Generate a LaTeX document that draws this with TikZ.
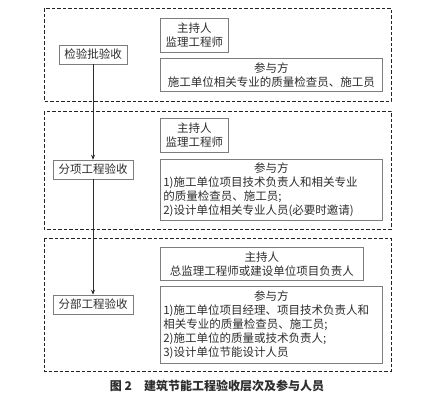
\documentclass[tikz,border=0pt]{standalone}
\usepackage{xcolor}
\usepackage{fontspec}
\setmainfont{Noto Sans CJK SC}
\usetikzlibrary{arrows.meta}
\definecolor{framegray}{RGB}{35, 35, 35}
\definecolor{boxgray}{RGB}{125, 125, 125}
\definecolor{textgray}{RGB}{45, 45, 45}

\tikzset{
  stageframe/.style={draw=framegray, line width=0.9pt, dash pattern=on 3.5pt off 2pt},
  levelbox/.style={draw=boxgray, line width=0.6pt, minimum height=19pt, inner sep=2pt,
    text=textgray, font=\fontsize{11.5}{14}\selectfont},
  rolebox/.style={draw=boxgray, line width=0.6pt, anchor=north west, inner xsep=3pt,
    inner ysep=1pt, text=textgray, font=\fontsize{11.5}{14}\selectfont},
  flow/.style={draw=textgray, line width=0.6pt, -{Stealth[length=5pt,width=4pt]}}
}

\begin{document}
\begin{tikzpicture}[x=1pt, y=-1pt]
  \useasboundingbox (0,0) rectangle (435,400);

  % three acceptance levels
  \draw[stageframe] (44,8) rectangle (391,101);
  \draw[stageframe] (44,111) rectangle (391,229);
  \draw[stageframe] (44,238) rectangle (391,371);

  \node[levelbox, minimum width=68pt] (lot) at (93,54.5) {检验批验收};
  \node[levelbox, minimum width=80pt] (item) at (93,169.5) {分项工程验收};
  \node[levelbox, minimum width=80pt] (part) at (93,304.5) {分部工程验收};

  \draw[flow] (lot.south) -- (item.north);
  \draw[flow] (item.south) -- (part.north);

  % level 1
  \node[rolebox, minimum width=68pt, minimum height=34pt, align=center] (hostA) at (160,18)
    {主持人\\监理工程师};
  \node[rolebox, minimum width=222pt, minimum height=33pt, align=center] (partyA) at (160,58)
    {参与方\\施工单位相关专业的质量检查员、施工员};

  % level 2
  \node[rolebox, minimum width=68pt, minimum height=34pt, align=center] (hostB) at (160,118)
    {主持人\\监理工程师};
  \node[rolebox, text width=216pt, minimum height=61pt, align=left] (partyB) at (160,159)
    {\makebox[216pt]{参与方}\\
     1)施工单位项目技术负责人和相关专业\\
     的质量检查员、施工员;\\
     2)设计单位相关专业人员(必要时邀请)};

  % level 3
  \node[rolebox, minimum width=203pt, minimum height=33pt, align=center] (hostC) at (160,247)
    {主持人\\总监理工程师或建设单位项目负责人};
  \node[rolebox, text width=216pt, minimum height=77pt, align=left] (partyC) at (160,286)
    {\makebox[216pt]{参与方}\\
     1)施工单位项目经理、项目技术负责人和\\
     相关专业的质量检查员、施工员;\\
     2)施工单位的质量或技术负责人;\\
     3)设计单位节能设计人员};

  \node[font=\fontsize{12}{14}\selectfont\bfseries, text=textgray] (caption) at (217,386)
    {图 2\quad 建筑节能工程验收层次及参与人员};
\end{tikzpicture}
\end{document}
